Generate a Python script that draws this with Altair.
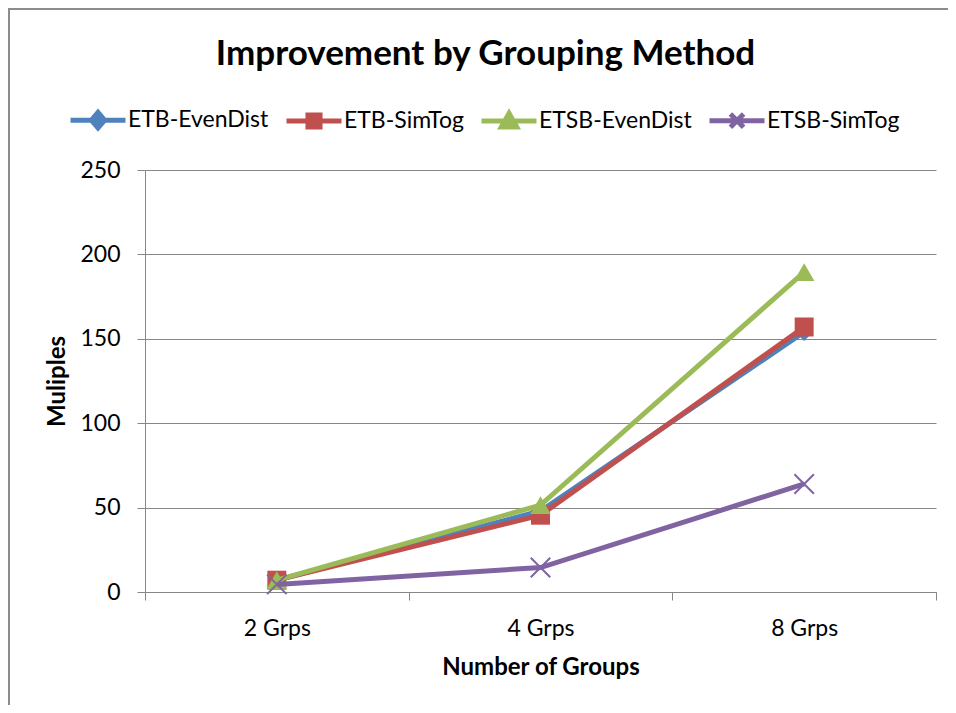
import altair as alt
import pandas as pd

groups = ["2 Grps", "4 Grps", "8 Grps"]
series_names = ["ETB-EvenDist", "ETB-SimTog", "ETSB-EvenDist", "ETSB-SimTog"]
etb_evendist = [7, 48, 154]
etb_simtog = [7, 45.5, 157]
etsb_evendist = [7, 51.5, 189.5]
etsb_simtog = [4.5, 14.5, 64]
colors = ["#4F81BD", "#C0504D", "#9BBB59", "#8064A2"]

values = [etb_evendist, etb_simtog, etsb_evendist, etsb_simtog]
rows = []
for name, vals in zip(series_names, values):
    for g, v in zip(groups, vals):
        rows.append({"group": g, "series": name, "value": v})
df = pd.DataFrame(rows)

FONT = "Lato"
GRAY = "#868686"

legend_paths = [
    "M-1,0L1,0M0,-0.28L0.24,0L0,0.28L-0.24,0Z",
    "M-1,0L1,0M-0.22,-0.22L0.22,-0.22L0.22,0.22L-0.22,0.22Z",
    "M-1,0L1,0M0,-0.28L0.28,0.22L-0.28,0.22Z",
    "M-1,0L1,0M-0.24,-0.24L0.24,0.24M-0.24,0.24L0.24,-0.24",
]
marker_shapes = ["diamond", "square", "triangle-up", "M-1,-1L1,1M-1,1L1,-1"]
marker_sizes = [320, 360, 420, 380]

x_enc = alt.X(
    "group:N",
    sort=groups,
    bandPosition=0.5,
    scale=alt.Scale(type="band", domain=groups, paddingInner=0, paddingOuter=0),
    axis=alt.Axis(
        title="Number of Groups",
        tickBand="extent",
        labelAngle=0,
        grid=False,
        domainColor=GRAY,
        tickColor=GRAY,
        tickSize=8,
        labelPadding=17,
        labelFont=FONT,
        labelFontSize=23,
        labelColor="black",
        titleFont=FONT,
        titleFontSize=24,
        titleFontWeight="bold",
        titleColor="black",
        titlePadding=15,
    ),
)
y_enc = alt.Y(
    "value:Q",
    scale=alt.Scale(domain=[0, 250], nice=False),
    axis=alt.Axis(
        title="Muliples",
        values=[0, 50, 100, 150, 200, 250],
        grid=True,
        gridColor=GRAY,
        gridWidth=1,
        domainColor=GRAY,
        tickColor=GRAY,
        tickSize=8,
        labelPadding=17,
        labelFont=FONT,
        labelFontSize=23,
        labelColor="black",
        titleFont=FONT,
        titleFontSize=24,
        titleFontWeight="bold",
        titleColor="black",
        titlePadding=10,
    ),
)

base = alt.Chart(df)

border = alt.Chart(pd.DataFrame({"a": [0]})).mark_rect(
    filled=False, stroke="#8c8c8c", strokeWidth=2
).encode(
    x=alt.value(-136), y=alt.value(-161), x2=alt.value(900), y2=alt.value(700)
)

legend_layer = base.mark_point(filled=True, opacity=0).encode(
    x=x_enc,
    y=y_enc,
    color=alt.Color("series:N", scale=alt.Scale(domain=series_names, range=colors), title=None),
    stroke=alt.Stroke("series:N", scale=alt.Scale(domain=series_names, range=colors), title=None),
    shape=alt.Shape("series:N", scale=alt.Scale(domain=series_names, range=legend_paths), title=None),
)

layers = [border, legend_layer]
for name, col, shp, sz in zip(series_names, colors, marker_shapes, marker_sizes):
    sub = base.transform_filter(alt.datum.series == name)
    layers.append(sub.mark_line(strokeWidth=5, color=col).encode(x=x_enc, y=y_enc))
    if shp.startswith("M"):
        mk = sub.mark_point(shape=shp, size=sz, filled=False, strokeWidth=2, color=col, opacity=1)
    else:
        mk = sub.mark_point(shape=shp, size=sz, filled=True, color=col, opacity=1)
    layers.append(mk.encode(x=x_enc, y=y_enc))

chart = alt.layer(*layers).properties(
    width=791,
    height=422,
    autosize="none",
    padding={"left": 137, "top": 162, "right": 12, "bottom": 113},
    title=alt.TitleParams(
        "Improvement by Grouping Method",
        font=FONT,
        fontSize=35,
        fontWeight="bold",
        color="black",
        anchor="middle",
        dx=-55,
        offset=-92,
        baseline="alphabetic",
    ),
).configure_view(stroke=None).configure_legend(
    orient="none",
    legendX=-77,
    legendY=-80,
    direction="horizontal",
    symbolSize=3025,
    symbolOpacity=1,
    symbolStrokeWidth=5,
    labelFont=FONT,
    labelFontSize=23,
    labelColor="black",
    labelOffset=0,
    columnPadding=7,
    padding=0,
)

chart.save("out.html", embed_options={"renderer": "svg", "actions": False})
